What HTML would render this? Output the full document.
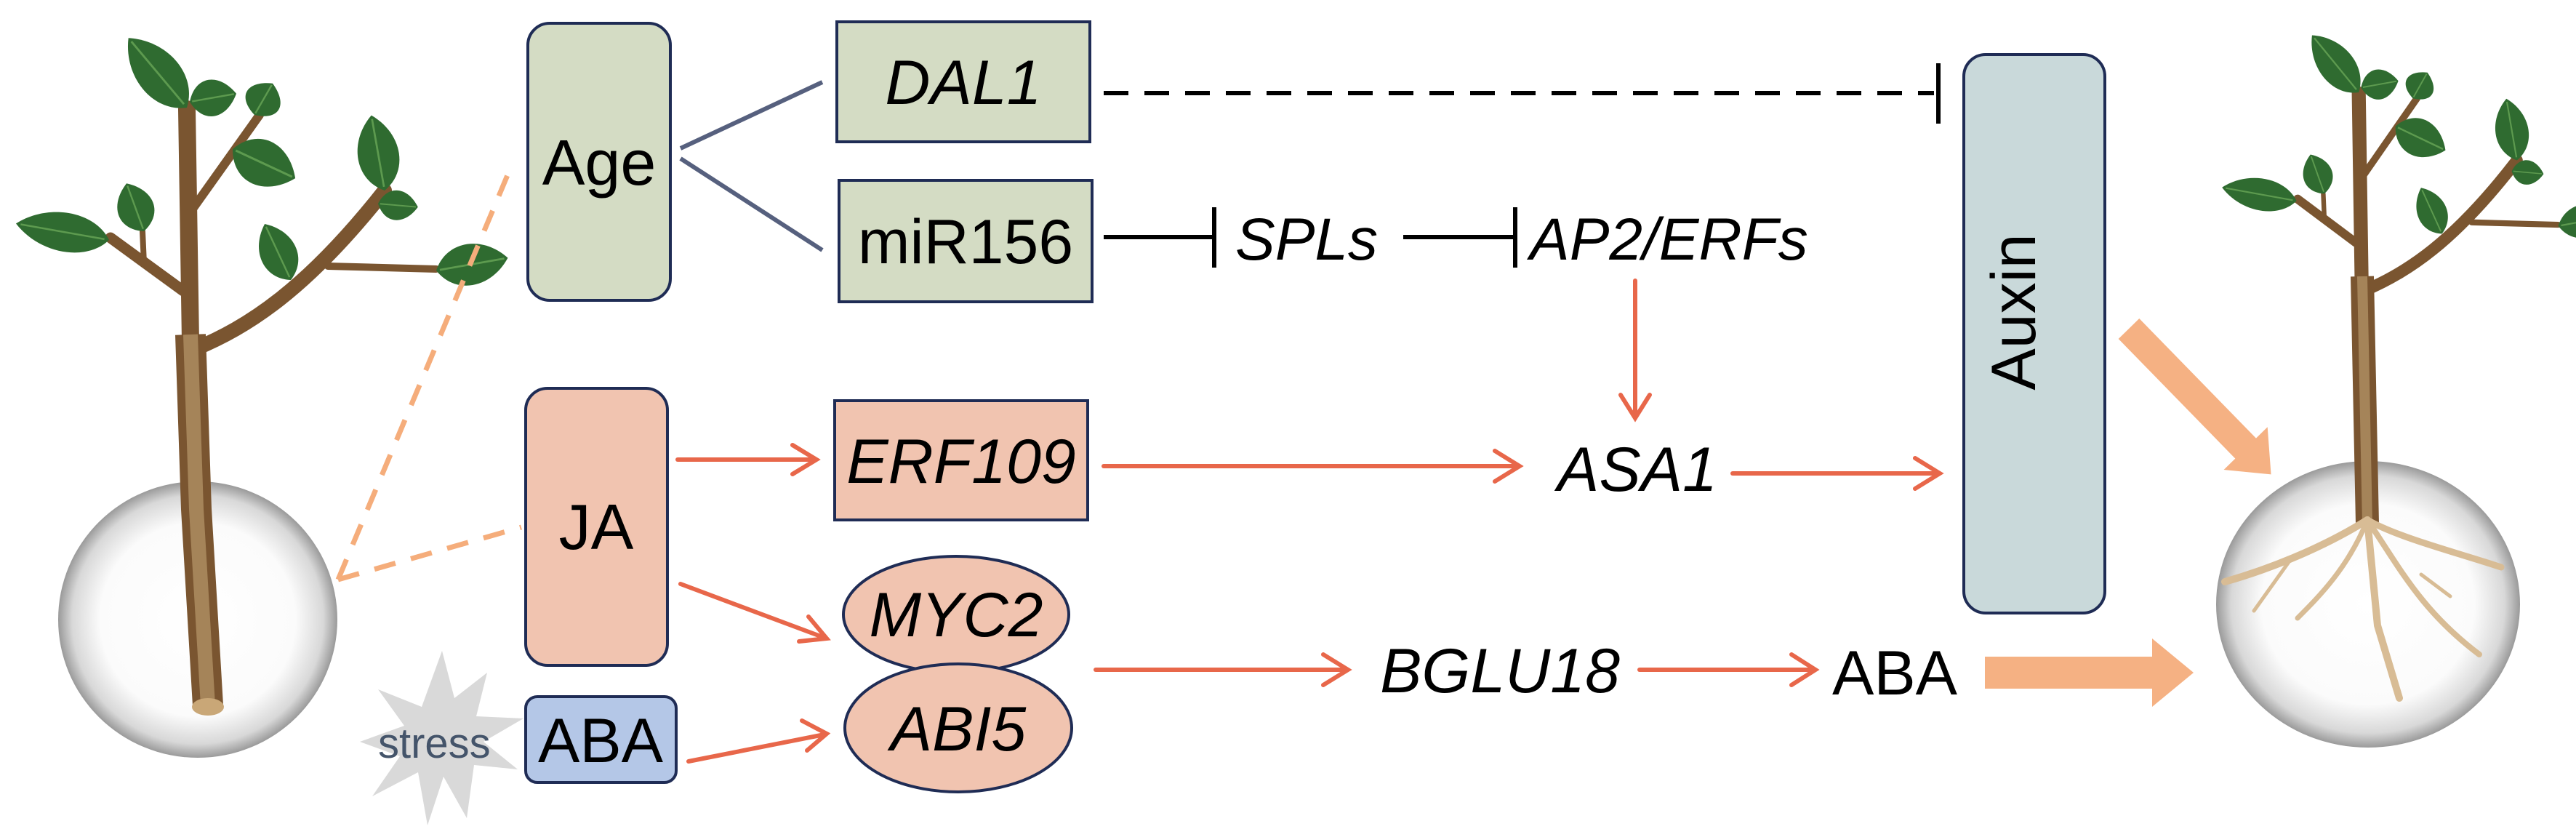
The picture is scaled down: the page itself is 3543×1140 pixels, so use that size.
<!DOCTYPE html>
<html><head><meta charset="utf-8">
<style>
html,body{margin:0;padding:0;background:#fff;}
svg{display:block;}
text{font-family:"Liberation Sans",Arial,sans-serif;fill:#000;}
.it{font-style:italic;}
</style></head>
<body>
<svg width="3543" height="1140" viewBox="0 0 3543 1140" xmlns="http://www.w3.org/2000/svg">
<defs>
  <radialGradient id="bub" cx="50%" cy="50%" r="50%">
    <stop offset="0" stop-color="#ffffff"/>
    <stop offset="0.7" stop-color="#fbfbfb"/>
    <stop offset="0.9" stop-color="#d8d8d8"/>
    <stop offset="1" stop-color="#9a9a9a"/>
  </radialGradient>
  <g id="leaf">
    <path d="M0,0 C20,-42 70,-42 100,0 C70,42 20,42 0,0Z" fill="#2f6b30"/>
    <path d="M5,0 L95,0" stroke="#5d9a4f" stroke-width="3"/>
  </g>
  <g id="tree">
    <g stroke="#7a5530" stroke-linecap="round" fill="none">
      <path d="M262,470 L257,150" stroke-width="24"/>
      <path d="M252,400 L152,327" stroke-width="15"/>
      <path d="M198,362 L196,318" stroke-width="8"/>
      <path d="M263,290 L357,158" stroke-width="12"/>
      <path d="M268,480 C340,450 420,400 529,262" stroke-width="20"/>
      <path d="M451,366 L600,370" stroke-width="10"/>
    </g>
    <use href="#leaf" transform="translate(257,148) rotate(-130) scale(1.25,0.95)"/>
    <use href="#leaf" transform="translate(261,140) rotate(-10) scale(0.65,0.8)"/>
    <use href="#leaf" transform="translate(350,158) rotate(-60) scale(0.5,0.8)"/>
    <use href="#leaf" transform="translate(320,205) rotate(25) scale(0.95,1)"/>
    <use href="#leaf" transform="translate(150,330) rotate(-170) scale(1.3,0.85)"/>
    <use href="#leaf" transform="translate(198,318) rotate(-110) scale(0.7,0.8)"/>
    <use href="#leaf" transform="translate(400,385) rotate(-115) scale(0.85,0.8)"/>
    <use href="#leaf" transform="translate(529,262) rotate(-100) scale(1.05,0.9)"/>
    <use href="#leaf" transform="translate(520,280) rotate(5) scale(0.55,0.65)"/>
    <use href="#leaf" transform="translate(600,372) rotate(-10) scale(1.0,0.9)"/>
  </g>
</defs>

<!-- LEFT TREE -->
<use href="#tree"/>
<ellipse cx="272" cy="852" rx="192" ry="190" fill="url(#bub)"/>
<path d="M262,460 L270,700 L286,970" stroke="#7a5530" stroke-width="42" fill="none"/>
<path d="M262,460 L270,700 L286,970" stroke="#a58459" stroke-width="20" fill="none"/>
<ellipse cx="286" cy="972" rx="22" ry="12" fill="#c9a777"/>

<!-- RIGHT TREE -->
<g transform="translate(3249,36) scale(0.8,0.82) translate(-263,-37)">
  <use href="#tree"/>
</g>
<ellipse cx="3257" cy="831" rx="209" ry="197" fill="url(#bub)"/>
<path d="M3249,380 L3256,720" stroke="#7a5530" stroke-width="32" fill="none"/>
<path d="M3249,380 L3256,720" stroke="#a58459" stroke-width="14" fill="none"/>
<g stroke="#d8bc95" stroke-linecap="round" fill="none">
  <path d="M3256,715 C3200,750 3130,780 3060,800" stroke-width="10"/>
  <path d="M3256,715 C3300,740 3380,760 3440,780" stroke-width="9"/>
  <path d="M3256,715 L3270,860 L3300,960" stroke-width="10"/>
  <path d="M3256,715 C3230,780 3190,820 3160,850" stroke-width="7"/>
  <path d="M3256,715 C3300,780 3330,840 3410,900" stroke-width="8"/>
  <path d="M3150,770 L3100,840" stroke-width="5"/>
  <path d="M3330,790 L3370,820" stroke-width="5"/>
</g>

<!-- dashed orange from left bubble -->
<g stroke="#f5ad7b" stroke-width="7" stroke-dasharray="30,22" fill="none">
  <line x1="465" y1="797" x2="703" y2="229"/>
  <line x1="465" y1="797" x2="717" y2="725"/>
</g>

<!-- stress burst -->
<polygon points="608,895 625,960 670,925 655,985 720,988 665,1020 712,1058 652,1052 642,1125 610,1068 588,1135 575,1062 512,1095 550,1040 495,1020 556,998 520,948 580,972" fill="#d9d9d9"/>
<text x="520" y="1042" font-size="58" style="fill:#44546a">stress</text>

<!-- Boxes -->
<g stroke="#1f2c55" stroke-width="4">
  <rect x="726" y="32" width="196" height="381" rx="30" fill="#d4dcc4"/>
  <rect x="1151" y="30" width="348" height="165" fill="#d4dcc4"/>
  <rect x="1154" y="248" width="348" height="167" fill="#d4dcc4"/>
  <rect x="723" y="534" width="195" height="381" rx="30" fill="#f1c4b0"/>
  <rect x="1148" y="551" width="348" height="164" fill="#f1c4b0"/>
  <rect x="723" y="958" width="207" height="118" rx="16" fill="#b4c7e7"/>
  <rect x="2701" y="75" width="194" height="768" rx="30" fill="#c9d9da"/>
  <ellipse cx="1315" cy="845" rx="155" ry="80" fill="#f1c4b0"/>
  <ellipse cx="1318" cy="1001" rx="156" ry="88" fill="#f1c4b0"/>
</g>

<text x="824" y="254" font-size="88" text-anchor="middle">Age</text>
<text x="1325" y="143" font-size="86" text-anchor="middle" class="it">DAL1</text>
<text x="1328" y="362" font-size="86" text-anchor="middle">miR156</text>
<text x="820" y="755" font-size="88" text-anchor="middle">JA</text>
<text x="1322" y="664" font-size="86" text-anchor="middle" class="it">ERF109</text>
<text x="826" y="1048" font-size="86" text-anchor="middle">ABA</text>
<text x="1315" y="875" font-size="86" text-anchor="middle" class="it">MYC2</text>
<text x="1318" y="1032" font-size="86" text-anchor="middle" class="it">ABI5</text>
<text x="2829" y="459" font-size="86" text-anchor="middle" transform="rotate(-90 2799 459)">Auxin</text>

<!-- Age connectors -->
<g stroke="#56607e" stroke-width="6">
  <line x1="936" y1="204" x2="1131" y2="113"/>
  <line x1="936" y1="218" x2="1131" y2="344"/>
</g>

<!-- DAL1 dashed inhibition -->
<line x1="1518" y1="128" x2="2660" y2="128" stroke="#000" stroke-width="6" stroke-dasharray="34,22"/>
<line x1="2666" y1="87" x2="2666" y2="170" stroke="#000" stroke-width="6"/>

<!-- miR156 -| SPLs -| AP2/ERFs -->
<line x1="1518" y1="326" x2="1670" y2="326" stroke="#000" stroke-width="6"/>
<line x1="1670" y1="285" x2="1670" y2="368" stroke="#000" stroke-width="6"/>
<text x="1699" y="357" font-size="82" class="it">SPLs</text>
<line x1="1930" y1="326" x2="2084" y2="326" stroke="#000" stroke-width="6"/>
<line x1="2084" y1="285" x2="2084" y2="368" stroke="#000" stroke-width="6"/>
<text x="2104" y="357" font-size="82" class="it">AP2/ERFs</text>

<!-- orange arrows -->
<g stroke="#e8674a" stroke-width="6" fill="none" stroke-linecap="round">
  <line x1="932" y1="632" x2="1120" y2="632"/>
  <polyline points="1090,612 1123,632 1090,652"/>
  <line x1="1518" y1="641" x2="2086" y2="641"/>
  <polyline points="2056,620 2090,641 2056,662"/>
  <line x1="2249" y1="386" x2="2249" y2="572"/>
  <polyline points="2229,543 2249,575 2269,543"/>
  <line x1="2383" y1="651" x2="2664" y2="651"/>
  <polyline points="2634,630 2668,651 2634,672"/>
  <line x1="936" y1="803" x2="1134" y2="877"/>
  <polyline points="1099,882 1137,878 1112,848"/>
  <line x1="947" y1="1047" x2="1134" y2="1010"/>
  <polyline points="1103,991 1137,1009 1110,1032"/>
  <line x1="1507" y1="921" x2="1850" y2="921"/>
  <polyline points="1820,900 1854,921 1820,942"/>
  <line x1="2255" y1="921" x2="2494" y2="921"/>
  <polyline points="2464,900 2497,921 2464,942"/>
</g>
<text x="2252" y="675" font-size="86" text-anchor="middle" class="it">ASA1</text>
<text x="2063" y="952" font-size="86" text-anchor="middle" class="it">BGLU18</text>
<text x="2606" y="955" font-size="86" text-anchor="middle">ABA</text>

<!-- thick arrows -->
<polygon points="2730,903 2960,903 2960,878 3017,925 2960,972 2960,947 2730,947" fill="#f5b183"/>
<g transform="translate(2928,452) rotate(45.7)">
  <polygon points="0,-20 230,-20 230,-42 280,0 230,42 230,20 0,20" fill="#f5b183"/>
</g>
</svg>
</body></html>
